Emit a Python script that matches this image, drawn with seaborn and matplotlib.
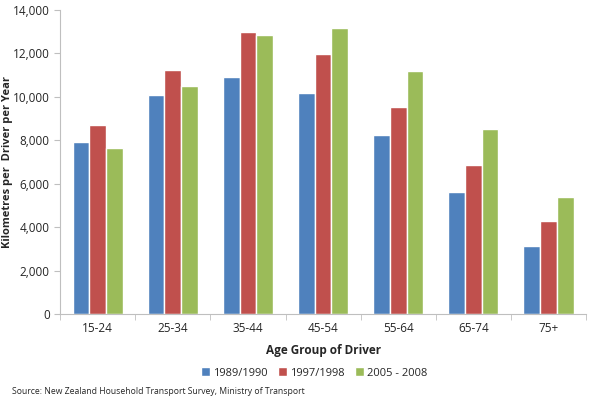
import pandas as pd
import matplotlib.pyplot as plt
import seaborn as sns
from matplotlib.ticker import FuncFormatter, FixedLocator

age_groups = ["15-24", "25-34", "35-44", "45-54", "55-64", "65-74", "75+"]
survey_periods = ["1989/1990", "1997/1998", "2005 - 2008"]
km_1989 = [7900, 10090, 10890, 10170, 8230, 5610, 3150]
km_1997 = [8680, 11230, 12980, 11970, 9510, 6850, 4300]
km_2005 = [7650, 10510, 12860, 13180, 11170, 8530, 5410]
colors = ["#4F81BD", "#C0504D", "#9BBB59"]

df = pd.DataFrame({"Age": age_groups * 3,
                   "Period": [p for p in survey_periods for _ in age_groups],
                   "Km": km_1989 + km_1997 + km_2005})

sns.set_style("white")
plt.rcParams['font.family'] = ['Open Sans', 'DejaVu Sans']

fig = plt.figure(figsize=(5.95, 3.97), dpi=100)
ax = fig.add_axes([0.101, 0.209, 0.884, 0.766])

sns.barplot(data=df, x="Age", y="Km", hue="Period", order=age_groups,
            hue_order=survey_periods, palette=colors, width=0.667,
            saturation=1, errorbar=None, ax=ax, legend=True)

ax.set_ylim(0, 14000)
ax.set_xlim(-0.5, 6.5)
ax.set_yticks(range(0, 14001, 2000))
ax.yaxis.set_major_formatter(FuncFormatter(lambda v, p: f"{int(v):,}"))
ax.xaxis.set_minor_locator(FixedLocator([i - 0.5 for i in range(8)]))
ax.tick_params(axis="x", which="major", length=0, labelsize=8.5, pad=6, colors="#262626")
ax.tick_params(axis="x", which="minor", length=4, color="#BFBFBF", direction="out", bottom=True)
ax.tick_params(axis="y", length=4, color="#BFBFBF", direction="out", left=True,
               labelsize=8.5, colors="#262626")
for s in ["top", "right"]:
    ax.spines[s].set_visible(False)
for s in ["left", "bottom"]:
    ax.spines[s].set_color("#BFBFBF")
    ax.spines[s].set_linewidth(0.8)

ax.set_xlabel("Age Group of Driver", fontsize=8.5, weight="bold", labelpad=6)
ax.set_ylabel("")
fig.text(8 / 595, 1 - 162 / 397, "Kilometres per  Driver per Year", rotation=90,
         fontsize=8, weight="bold", ha="center", va="center")

handles, labels = ax.get_legend_handles_labels()
ax.legend_.remove()
fig.legend(handles, labels, loc="center", bbox_to_anchor=(0.528, 1 - 373 / 397), ncol=3,
           frameon=False, fontsize=8, handlelength=0.8, handleheight=0.8,
           handletextpad=0.3, columnspacing=0.9)

fig.text(0.02, 1 - 392 / 397, "Source: New Zealand Household Transport Survey, Ministry of Transport",
         fontsize=6.2, va="center", ha="left")

fig.savefig("out.png", dpi=100)
